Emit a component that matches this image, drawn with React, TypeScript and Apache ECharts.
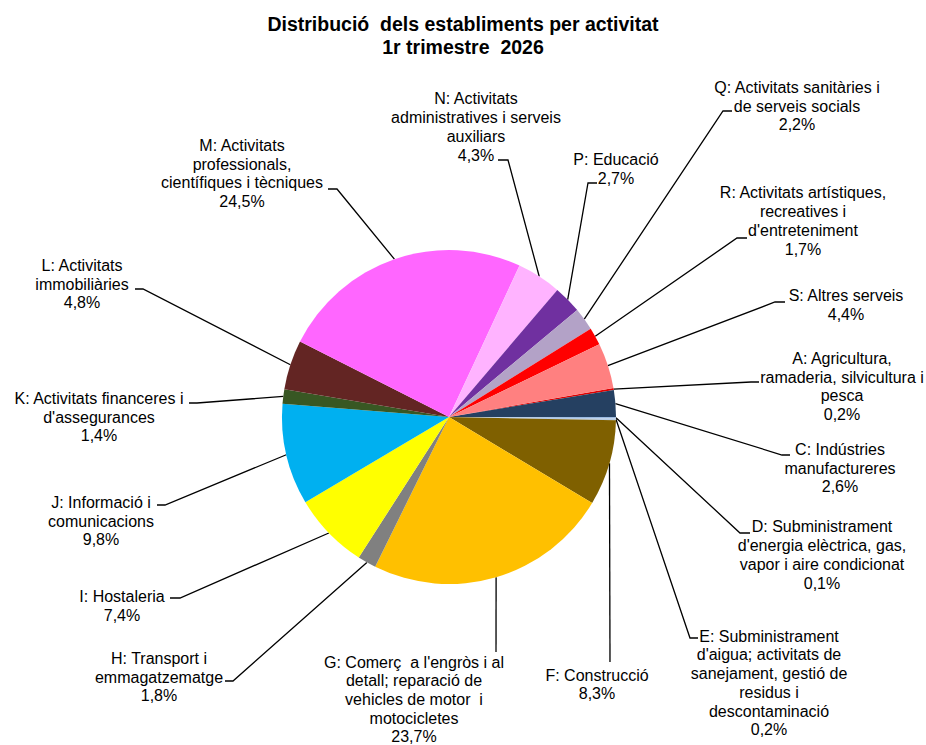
import React, { useEffect, useRef } from "react";
import * as echarts from "echarts";

const titleLines = ["Distribució  dels establiments per activitat", "1r trimestre  2026"];

const categories = [
  "A: Agricultura,\nramaderia, silvicultura i\npesca",
  "C: Indústries\nmanufactureres",
  "D: Subministrament\nd'energia elèctrica, gas,\nvapor i aire condicionat",
  "E: Subministrament\nd'aigua; activitats de\nsanejament, gestió de\nresidus i\ndescontaminació",
  "F: Construcció",
  "G: Comerç  a l'engròs i al\ndetall; reparació de\nvehicles de motor  i\nmotocicletes",
  "H: Transport i\nemmagatzematge",
  "I: Hostaleria",
  "J: Informació i\ncomunicacions",
  "K: Activitats financeres i\nd'assegurances",
  "L: Activitats\nimmobiliàries",
  "M: Activitats\nprofessionals,\ncientífiques i tècniques",
  "N: Activitats\nadministratives i serveis\nauxiliars",
  "P: Educació",
  "Q: Activitats sanitàries i\nde serveis socials",
  "R: Activitats artístiques,\nrecreatives i\nd'entreteniment",
  "S: Altres serveis",
];

const values = [0.2, 2.6, 0.1, 0.2, 8.3, 23.7, 1.8, 7.4, 9.8, 1.4, 4.8, 24.5, 4.3, 2.7, 2.2, 1.7, 4.4];

const colors = [
  "#E00000", "#254061", "#8EB4E3", "#B9CDE5", "#7F6000", "#FFC000", "#808080", "#FFFF00",
  "#00B0F0", "#385723", "#632523", "#FF66FF", "#FFB3FF", "#7030A0", "#B3A2C7", "#FF0000", "#FF8080",
];

// label block centres (layout only)
const labelCentres: number[][] = [
  [842, 386.5], [840, 468], [822, 555], [769, 683], [597, 684.5], [414, 699.5],
  [159, 677], [122, 606], [101, 521], [99, 417], [82, 284], [242, 173.5],
  [476, 127], [616, 169], [797, 106], [803, 221], [846, 305],
];

// leader line: bend point and end point next to text (layout only)
const leaderEnds: number[][] = [
  [751, 382, 759, 382], [782, 455, 790, 455], [740, 533, 750, 533], [690, 638, 698, 638],
  [610, 662, 610, 662], [496, 652, 496, 652], [233, 681, 225, 681], [180, 598, 170, 598],
  [165, 505, 157, 505], [197, 403, 189, 403], [143, 289, 135, 289], [337, 189, 328, 189],
  [508, 160, 498, 160], [588, 183, 597, 183], [723, 111, 732, 111], [737, 238, 747, 238],
  [775, 302, 785, 302],
];

export default function App() {
  const ref = useRef<HTMLDivElement>(null);
  useEffect(() => {
    if (!ref.current) return;
    const chart = echarts.init(ref.current, undefined, { renderer: "svg" });
    const font = "'Liberation Sans', Arial, sans-serif";
    chart.setOption({
      animation: false,
      backgroundColor: "#ffffff",
      title: {
        text: titleLines.join("\n"),
        left: "center",
        top: 7,
        textStyle: {
          fontFamily: font,
          fontSize: 19.5,
          fontWeight: "bold",
          color: "#000",
          lineHeight: 23,
        },
      },
      series: [
        {
          type: "pie",
          center: [449, 417],
          radius: 167,
          startAngle: 10,
          clockwise: true,
          avoidLabelOverlap: false,
          emphasis: { disabled: true },
          itemStyle: { borderWidth: 0 },
          label: {
            show: true,
            position: "outside",
            fontFamily: font,
            fontSize: 16,
            lineHeight: 18.7,
            color: "#000",
            align: "center",
            formatter: (p: any) => `${p.name}\n${Number(p.value).toFixed(1).replace(".", ",")}%`,
          },
          labelLine: {
            show: true,
            length: 10,
            length2: 10,
            lineStyle: { color: "#000", width: 1.3 },
          },
          labelLayout: (params: any) => {
            const i = params.dataIndex;
            const c = labelCentres[i];
            const l = leaderEnds[i];
            const start = params.labelLinePoints ? params.labelLinePoints[0] : [l[0], l[1]];
            return {
              x: c[0],
              y: c[1],
              align: "center",
              verticalAlign: "middle",
              labelLinePoints: [start, [l[0], l[1]], [l[2], l[3]]],
            };
          },
          data: categories.map((name, i) => ({
            name,
            value: values[i],
            itemStyle: { color: colors[i] },
          })),
        },
      ],
    });
    return () => chart.dispose();
  }, []);
  return (
    <div
      ref={ref}
      style={{ position: "fixed", left: 0, top: 0, width: 926, height: 745 }}
    />
  );
}
